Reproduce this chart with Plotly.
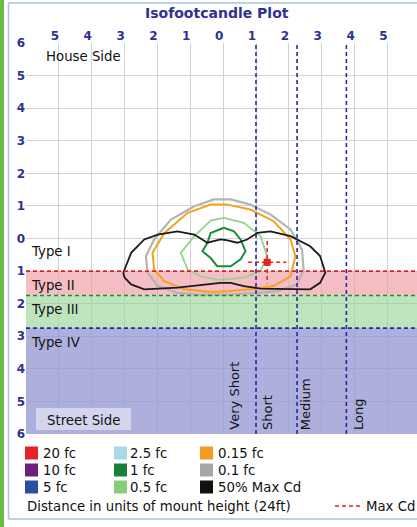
import plotly.graph_objects as go

# ---------------- data ----------------
x_ticks = [-5, -4, -3, -2, -1, 0, 1, 2, 3, 4, 5]
x_ticktext = ["5", "4", "3", "2", "1", "0", "1", "2", "3", "4", "5"]
y_ticks = [-6, -5, -4, -3, -2, -1, 0, 1, 2, 3, 4, 5, 6]
y_ticktext = ["6", "5", "4", "3", "2", "1", "0", "1", "2", "3", "4", "5", "6"]

# lateral type boundaries (street side, mount heights)
type_bounds = [-1.0, -1.75, -2.75]
type_labels = ["Type I", "Type II", "Type III", "Type IV"]
type_label_y = [-0.41, -1.43, -2.19, -3.2]

# longitudinal distance boundaries
dist_bounds = [1.0, 2.25, 3.75]
dist_labels = ["Very Short", "Short", "Medium", "Long"]
dist_label_x = [0.32, 1.35, 2.5, 4.12]

# isofootcandle contours
c01_x = [0.23, 0.83, 1.44, 2.05, 2.4, 2.45, 2.25, 1.64, 0.93, 0.13, -0.78, -1.39, -1.99, -2.3, -2.35, -2.1, -1.59, -0.88, -0.28, 0.23]
c01_y = [1.2, 1.04, 0.74, 0.28, -0.34, -0.95, -1.41, -1.62, -1.67, -1.72, -1.72, -1.67, -1.46, -1.05, -0.54, -0.03, 0.58, 0.99, 1.2, 1.2]

c015_x = [0.13, 0.83, 1.54, 2.05, 2.2, 2.05, 1.54, 0.83, 0.13, -0.38, -1.19, -1.79, -2.1, -2.15, -1.79, -1.08, -0.38, 0.13]
c015_y = [1.04, 0.89, 0.53, -0.03, -0.54, -1.16, -1.46, -1.56, -1.62, -1.64, -1.56, -1.31, -0.95, -0.44, 0.17, 0.79, 1.04, 1.04]

c05_x = [0.02, 0.63, 1.14, 1.34, 1.14, 0.63, 0.02, -0.18, -0.68, -1.08, -1.29, -0.88, -0.38, 0.02]
c05_y = [0.63, 0.48, 0.07, -0.54, -1.0, -1.2, -1.26, -1.26, -1.16, -0.95, -0.44, 0.07, 0.55, 0.63]

c1_x = [0.02, 0.33, 0.53, 0.68, 0.53, 0.23, -0.18, -0.38, -0.63, -0.48, -0.38, 0.02]
c1_y = [0.33, 0.22, -0.03, -0.39, -0.64, -0.85, -0.85, -0.6, -0.39, -0.13, 0.17, 0.33]

cmax_x = [-3.04, -2.8, -2.4, -1.99, -1.39, -0.88, -0.48, -0.08, 0.1, 0.43, 0.73, 1.04, 1.44, 2.05, 2.65, 2.95, 3.11, 2.95, 2.65, 2.15, 1.14, 0.63, 0.23, -0.08, -0.58, -1.39, -2.4, -2.8, -3.0, -3.04]
cmax_y = [-1.05, -0.44, -0.03, 0.12, 0.22, 0.12, -0.13, -0.03, -0.05, -0.13, -0.03, 0.17, 0.22, 0.07, -0.24, -0.54, -1.05, -1.36, -1.56, -1.56, -1.54, -1.46, -1.36, -1.36, -1.41, -1.51, -1.56, -1.41, -1.2, -1.05]

max_cd = [1.34, -0.73]
max_cd_half = [0.58, 0.65]

legend_labels = ["20 fc", "10 fc", "5 fc", "2.5 fc", "1 fc", "0.5 fc", "0.15 fc", "0.1 fc", "50% Max Cd"]
legend_colors = ["#e8202a", "#6b1f7f", "#2b4ea2", "#a8d8ea", "#1a7f3a", "#86cc7a", "#f39c1f", "#a6a6a6", "#111111"]

# ---------------- layout helpers ----------------
W, H = 417, 527
L, R, T, B = 26, 417, 43, 434
XR = [-6, 5.9]
YR = [-6, 6]


def px(x):
    return (x - L) / (R - L)


def py(y):
    return (B - y) / (B - T)


FONT = "DejaVu Sans"
BLUE = "#2e3192"
TXT = 13.3

fig = go.Figure()

contours = [
    (c01_x, c01_y, "#b4b4b4", 2.2),
    (c015_x, c015_y, "#f4a21e", 2.0),
    (c05_x, c05_y, "#95d38a", 1.8),
    (c1_x, c1_y, "#1f8a3a", 2.0),
    (cmax_x, cmax_y, "#1a1a1a", 1.8),
]
for cx, cy, col, w in contours:
    fig.add_trace(go.Scatter(x=cx, y=cy, mode="lines", line=dict(color=col, width=w),
                             hoverinfo="skip", showlegend=False))

# Max Cd cross
fig.add_trace(go.Scatter(x=[max_cd[0] - max_cd_half[0], max_cd[0] + max_cd_half[0]], y=[max_cd[1], max_cd[1]],
                         mode="lines", line=dict(color="#e82020", width=1.5, dash="4px,3px"),
                         hoverinfo="skip", showlegend=False))
fig.add_trace(go.Scatter(x=[max_cd[0], max_cd[0]], y=[max_cd[1] + max_cd_half[1], max_cd[1] - max_cd_half[1]],
                         mode="lines", line=dict(color="#e82020", width=1.5, dash="4px,3px"),
                         hoverinfo="skip", showlegend=False))
fig.add_trace(go.Scatter(x=[max_cd[0]], y=[max_cd[1]], mode="markers",
                         marker=dict(symbol="square", size=7, color="#e82020"),
                         hoverinfo="skip", showlegend=False))

shapes = []
# type bands (between gridlines and traces so the grid shows through tinted)
band_cols = ["rgba(238,150,160,0.62)", "rgba(150,212,150,0.62)", "rgba(150,152,212,0.78)"]
edges = type_bounds + [YR[0]]
for i, col in enumerate(band_cols):
    shapes.append(dict(type="rect", xref="x", yref="y", x0=XR[0], x1=XR[1], y0=edges[i + 1], y1=edges[i],
                       fillcolor=col, line=dict(width=0), layer="between"))
# type boundary dashed lines
for yb, col in zip(type_bounds, ["#e02020", "#208a30", "#2a2aa0"]):
    shapes.append(dict(type="line", xref="x", yref="y", x0=XR[0], x1=XR[1], y0=yb, y1=yb,
                       line=dict(color=col, width=1.6, dash="4px,3px"), layer="above"))
# distance boundary dashed lines
for xb in dist_bounds:
    shapes.append(dict(type="line", xref="x", yref="y", x0=xb, x1=xb, y0=YR[0], y1=YR[1],
                       line=dict(color="#2a2aa0", width=1.6, dash="4px,3px"), layer="above"))
# Street Side box
shapes.append(dict(type="rect", xref="paper", yref="paper", x0=px(36), x1=px(131), y0=py(430), y1=py(408),
                   fillcolor="rgba(218,218,240,0.85)", line=dict(width=0), layer="above"))
# outer frame (green strip + light blue border lines)
shapes.append(dict(type="rect", xref="paper", yref="paper", x0=px(0), x1=px(4), y0=py(527), y1=py(0),
                   fillcolor="#6dbb45", line=dict(width=0)))
frame = dict(color="#a9c1e3", width=1.5)
shapes.append(dict(type="line", xref="paper", yref="paper", x0=px(8.5), x1=px(8.5), y0=py(519), y1=py(3), line=frame))
shapes.append(dict(type="line", xref="paper", yref="paper", x0=px(8.5), x1=px(417), y0=py(3), y1=py(3), line=frame))
shapes.append(dict(type="line", xref="paper", yref="paper", x0=px(8.5), x1=px(417), y0=py(519), y1=py(519), line=frame))

annotations = []
annotations.append(dict(text="<b>Isofootcandle Plot</b>", xref="paper", yref="paper", x=px(216.5), y=py(13),
                        showarrow=False, font=dict(family=FONT, size=14, color=BLUE), xanchor="center", yanchor="middle"))
annotations.append(dict(text="House Side", xref="paper", yref="paper", x=px(44), y=py(57),
                        showarrow=False, font=dict(family=FONT, size=TXT, color="#111"), xanchor="left", yanchor="middle"))
annotations.append(dict(text="Street Side", xref="paper", yref="paper", x=px(83.5), y=py(420),
                        showarrow=False, font=dict(family=FONT, size=TXT, color="#111"), xanchor="center", yanchor="middle"))
for lab, yy in zip(type_labels, type_label_y):
    annotations.append(dict(text=lab, xref="paper", yref="y", x=px(29), y=yy, showarrow=False,
                            font=dict(family=FONT, size=TXT, color="#111"), xanchor="left", yanchor="middle"))
for lab, xx in zip(dist_labels, dist_label_x):
    annotations.append(dict(text=lab, xref="x", yref="paper", x=xx, y=py(432), textangle=-90, showarrow=False,
                            font=dict(family=FONT, size=13, color="#111"), xanchor="center", yanchor="bottom"))

# legend grid
col_sq = [25, 114, 200]
col_tx = [41, 128, 216]
row_y = [453, 470, 487]
for i, (lab, col) in enumerate(zip(legend_labels, legend_colors)):
    c, r = divmod(i, 3)
    yc = row_y[r]
    shapes.append(dict(type="rect", xref="paper", yref="paper", x0=px(col_sq[c]), x1=px(col_sq[c] + 13),
                       y0=py(yc + 6.5), y1=py(yc - 6.5), fillcolor=col, line=dict(width=0)))
    annotations.append(dict(text=lab, xref="paper", yref="paper", x=px(col_tx[c]), y=py(yc), showarrow=False,
                            font=dict(family=FONT, size=TXT, color="#111"), xanchor="left", yanchor="middle"))
annotations.append(dict(text="Distance in units of mount height (24ft)", xref="paper", yref="paper",
                        x=px(25), y=py(506), showarrow=False, font=dict(family=FONT, size=TXT, color="#111"),
                        xanchor="left", yanchor="middle"))
shapes.append(dict(type="line", xref="paper", yref="paper", x0=px(335), x1=px(362), y0=py(506), y1=py(506),
                   line=dict(color="#e82020", width=1.6, dash="4px,3px")))
annotations.append(dict(text="Max Cd", xref="paper", yref="paper", x=px(364), y=py(506), showarrow=False,
                        font=dict(family=FONT, size=TXT, color="#111"), xanchor="left", yanchor="middle"))

fig.update_layout(
    width=W, height=H,
    margin=dict(l=L, r=W - R, t=T, b=H - B, pad=0, autoexpand=False),
    paper_bgcolor="white", plot_bgcolor="white",
    showlegend=False,
    shapes=shapes, annotations=annotations,
    xaxis=dict(range=XR, side="top", tickmode="array", tickvals=x_ticks, ticktext=x_ticktext,
               showgrid=True, gridcolor="#d2d2d2", gridwidth=1.2,
               zeroline=False, showline=False, ticks="", fixedrange=True, automargin=False,
               ticklabelshift=-4,
               tickfont=dict(family=FONT, size=12, color=BLUE, weight="bold")),
    yaxis=dict(range=YR, tickmode="array", tickvals=y_ticks, ticktext=y_ticktext,
               showgrid=True, gridcolor="#d2d2d2", gridwidth=1.2,
               zeroline=False, showline=False, ticks="", fixedrange=True, automargin=False,
               tickfont=dict(family=FONT, size=12, color=BLUE, weight="bold")),
)

fig.write_html("out.html", config={"displayModeBar": False},
               post_script="document.body.style.margin='0';document.body.style.overflow='hidden';")
